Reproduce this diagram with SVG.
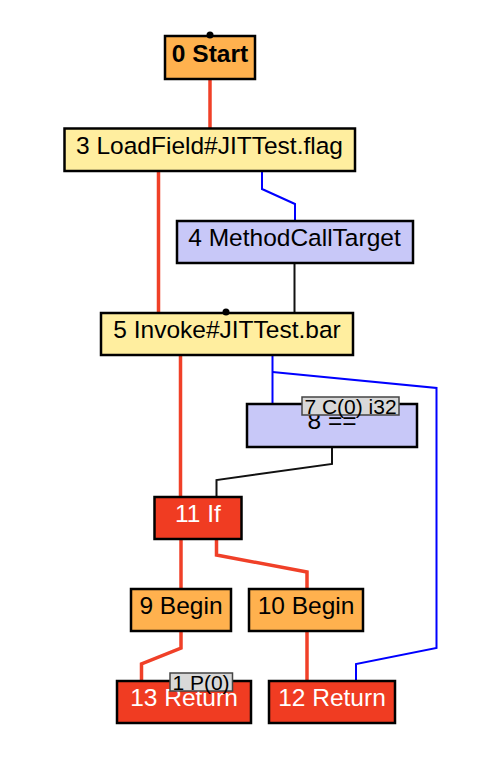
<svg xmlns="http://www.w3.org/2000/svg" width="490" height="758" viewBox="0 0 490 758">
<style>
text{font-family:"Liberation Sans",Arial,sans-serif;font-size:24.5px;text-anchor:middle;fill:#000}
.n rect{stroke:#000;stroke-width:2.5}
.orange{fill:#ffb14e}
.yellow{fill:#ffee9f}
.lav{fill:#c8c8f8}
.red{fill:#f03c22}
.w{fill:#fff}
.e{fill:none;stroke-linejoin:miter}
.ctl{stroke:#f04028;stroke-width:3.5}
.dat{stroke:#0000ff;stroke-width:2}
.blk{stroke:#111;stroke-width:2}
.tag rect{fill:#d8d8d8;stroke:#444;stroke-width:1.5}
.tag text{font-size:21px}
</style>
<g id="connectors">
<polyline class="e ctl" points="210,79 210,128"/>
<polyline class="e ctl" points="158.5,171 158.5,313"/>
<polyline class="e ctl" points="180.5,355 180.5,497"/>
<polyline class="e ctl" points="181,539 181,589"/>
<polyline class="e ctl" points="216.5,539 216.5,555 307,572 307,589"/>
<polyline class="e ctl" points="181,631 181,648 141.5,664 141.5,681"/>
<polyline class="e ctl" points="307,631 307,681"/>
<polyline class="e dat" points="262,171 262,189 295,204 295,221"/>
<polyline class="e dat" points="272.5,355 272.5,404"/>
<polyline class="e dat" points="272.5,372 436.5,388 436.5,648 356,664 356,681"/>
<polyline class="e blk" points="294.5,263 294.5,313"/>
<polyline class="e blk" points="332,447 332,464 216.5,480 216.5,497"/>
</g>
<g id="n0" class="n"><rect class="orange" x="165" y="36" width="90" height="43"/><text x="210" y="61.5" font-weight="bold">0 Start</text><circle cx="210" cy="35" r="3.5" fill="#000"/></g>
<g id="n3" class="n"><rect class="yellow" x="64.5" y="128.5" width="290.5" height="42.5"/><text x="209.5" y="154">3 LoadField#JITTest.flag</text></g>
<g id="n4" class="n"><rect class="lav" x="177" y="221" width="236" height="42"/><text x="294.5" y="245.5">4 MethodCallTarget</text></g>
<g id="n5" class="n"><rect class="yellow" x="101" y="313" width="252" height="42"/><text x="227" y="338">5 Invoke#JITTest.bar</text><circle cx="226" cy="312" r="3.5" fill="#000"/></g>
<g id="n8" class="n"><rect class="lav" x="247" y="404" width="170" height="43"/><text x="332" y="429">8 ==</text></g>
<g id="n7" class="tag"><rect x="302" y="397" width="97" height="18"/><text x="350.5" y="414">7 C(0) i32</text></g>
<g id="n11" class="n"><rect class="red" x="154.5" y="497" width="87" height="42"/><text class="w" x="198" y="522">11 If</text></g>
<g id="n9" class="n"><rect class="orange" x="131" y="589" width="100" height="42"/><text x="181" y="614">9 Begin</text></g>
<g id="n10" class="n"><rect class="orange" x="249" y="589" width="114" height="42"/><text x="306" y="614">10 Begin</text></g>
<g id="n13" class="n"><rect class="red" x="117" y="681" width="134" height="42"/><text class="w" x="184" y="706">13 Return</text></g>
<g id="n1" class="tag"><rect x="170" y="673" width="62.5" height="18"/><text x="201" y="690">1 P(0)</text></g>
<g id="n12" class="n"><rect class="red" x="269" y="681" width="126" height="42"/><text class="w" x="332" y="706">12 Return</text></g>
</svg>
